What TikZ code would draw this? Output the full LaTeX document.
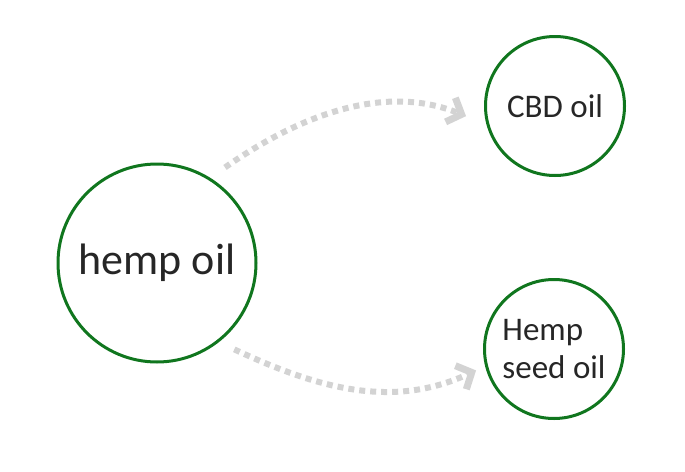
\documentclass[tikz,border=0pt]{standalone}
\usepackage{fontspec}
\setmainfont{Carlito}
\usepackage{tikz}
\usetikzlibrary{arrows.meta}

\definecolor{oilgreen}{RGB}{16,118,30}
\definecolor{flowgray}{RGB}{211,211,211}
\definecolor{oiltext}{RGB}{38,38,38}

\tikzset{
  oilcircle/.style={circle, draw=oilgreen, line width=3pt, text=oiltext, inner sep=0pt},
  bigoil/.style={oilcircle, minimum size=198pt, font=\fontsize{44}{50}\selectfont},
  smalloil/.style={oilcircle, minimum size=139pt, align=left, font=\fontsize{33}{38}\selectfont},
  flowarrow/.style={flowgray, line width=6pt, dash pattern=on 6pt off 5pt,
    -{Straight Barb[length=12pt,width=26pt,line width=7pt]}}
}

\begin{document}
\begin{tikzpicture}[x=1pt,y=-1pt]
\useasboundingbox (0,0) rectangle (685,471);

\node [bigoil] (hemp) at (157,263) {hemp oil};
\node [smalloil] (cbd) at (555,106) {CBD oil};
\node [smalloil] (seed) at (554,349) {Hemp\\seed oil};

% dotted flows
\draw [flowarrow, shorten <=18pt, shorten >=22pt] (hemp.58) to[out=35,in=158] (cbd.195);
\draw [flowarrow, shorten <=17pt, shorten >=10pt] (hemp.-52) to[out=-25,in=205] (seed.194);
\end{tikzpicture}
\end{document}
